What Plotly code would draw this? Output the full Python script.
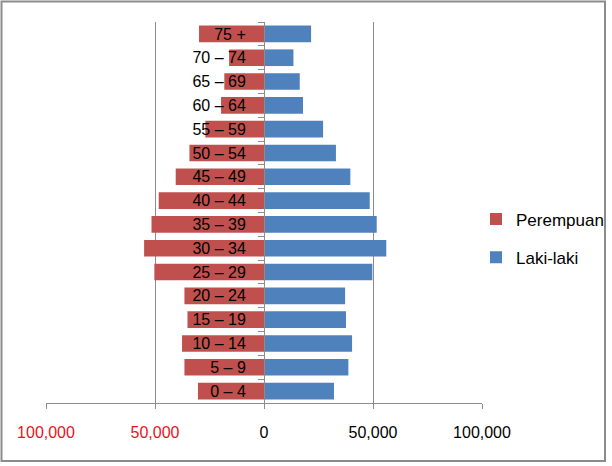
import plotly.graph_objects as go

age_groups = ['0 – 4', '5 – 9', '10 – 14', '15 – 19', '20 – 24', '25 – 29', '30 – 34',
              '35 – 39', '40 – 44', '45 – 49', '50 – 54', '55 – 59', '60 – 64',
              '65 – 69', '70 – 74', '75 +']
perempuan = [30300, 36500, 37600, 35100, 36500, 50300, 55000, 51600, 48300, 40500,
             34200, 26900, 19700, 18200, 16000, 29800]
laki_laki = [32100, 38700, 40400, 37600, 37200, 49700, 56100, 51700, 48500, 39600,
             33000, 27100, 17900, 16400, 13500, 21600]

x_tickvals = [-100000, -50000, 0, 50000, 100000]
x_ticktext = ['<span style="color:#E8141B">100,000</span>',
              '<span style="color:#E8141B">50,000</span>',
              '0', '50,000', '100,000']

W, H = 612, 466
ML, MR, MT, MB = 46, 130, 22, 63
PW, PH = W - ML - MR, H - MT - MB
GREY = '#8C8C8C'
FONT = 'Liberation Sans, Arial, sans-serif'

fig = go.Figure()
fig.add_trace(go.Bar(
    y=age_groups, x=[-v for v in perempuan], orientation='h', name='Perempuan',
    marker=dict(color='#C0504D', line=dict(width=0)), legendgroup='p'))
fig.add_trace(go.Bar(
    y=age_groups, x=laki_laki, orientation='h', name='Laki-laki',
    marker=dict(color='#4F81BD', line=dict(width=0)), legendgroup='l'))

fig.update_layout(
    template='none',
    width=W, height=H,
    margin=dict(l=ML, r=MR, t=MT, b=MB, pad=0, autoexpand=False),
    paper_bgcolor='white', plot_bgcolor='white',
    font=dict(family=FONT, size=16, color='black'),
    barmode='relative', bargap=0.3,
    showlegend=True,
    legend=dict(x=(476 - ML) / PW, xanchor='left',
                y=(MT + PH - 238.5) / PH, yanchor='middle',
                traceorder='grouped', tracegroupgap=13,
                font=dict(family=FONT, size=17, color='black'),
                bgcolor='rgba(0,0,0,0)', borderwidth=0),
    xaxis=dict(range=[-100000, 100000], domain=[0, 1], automargin=False,
               tickvals=x_tickvals, ticktext=x_ticktext,
               showgrid=True, gridcolor=GREY, gridwidth=1,
               zeroline=False, showline=True, linecolor=GREY, linewidth=1,
               ticks='outside', ticklen=5, tickcolor=GREY,
               ticklabelstandoff=10,
               tickfont=dict(family=FONT, size=16, color='black'),
               fixedrange=True),
    yaxis=dict(type='category', categoryorder='array', categoryarray=age_groups,
               anchor='free', position=0.5, automargin=False,
               showline=True, linecolor=GREY, linewidth=1,
               showgrid=False, zeroline=False,
               ticks='outside', ticklen=6, tickcolor=GREY, tickson='boundaries',
               ticklabelstandoff=15,
               tickfont=dict(family=FONT, size=16, color='black'),
               fixedrange=True),
    shapes=[dict(type='rect', xref='paper', yref='paper',
                 x0=(1.5 - ML) / PW, x1=(605 - ML) / PW,
                 y0=(MT + PH - 461) / PH, y1=(MT + PH - 1.5) / PH,
                 line=dict(color=GREY, width=2), fillcolor='rgba(0,0,0,0)',
                 layer='above')],
)

fig.write_html('out.html',
               config={'displayModeBar': False},
               post_script="document.body.style.margin='0';document.body.style.overflow='hidden';")
